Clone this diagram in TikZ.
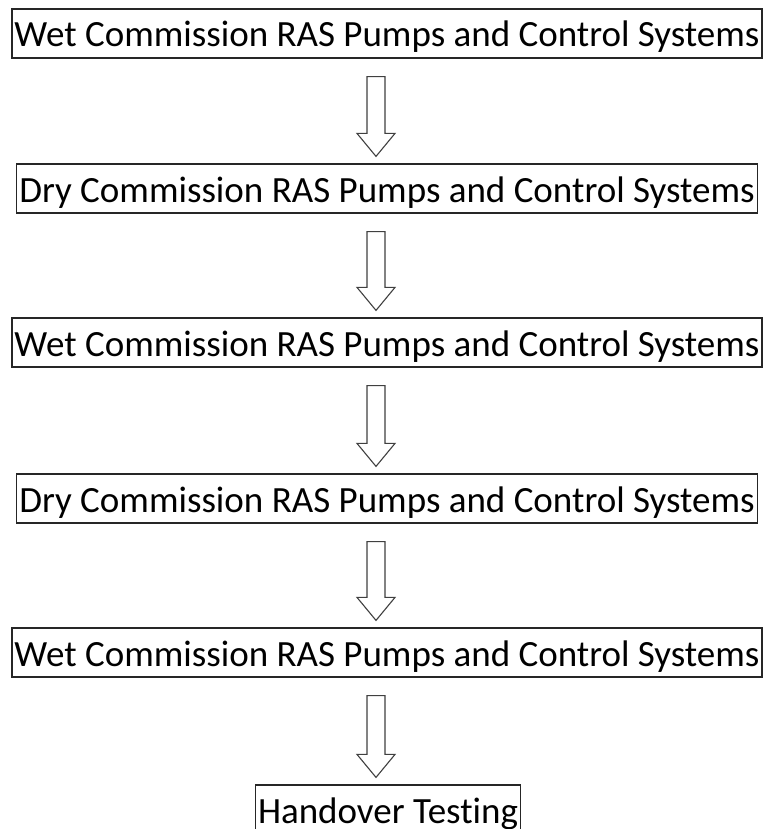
\documentclass[tikz,border=0pt]{standalone}
\usepackage{fontspec}
\setmainfont[Ligatures=NoCommon]{Carlito}
\usepackage{tikz}
\usetikzlibrary{calc}

\newcommand{\stagearrow}[2]{%
  \draw[arrowline] let \p1=(#1.south), \p2=(#2.north) in
    (367pt,\y1-18pt) -- (385pt,\y1-18pt) -- (385pt,\y2+30pt) -- (395pt,\y2+30pt)
    -- (376pt,\y2+7pt) -- (357pt,\y2+30pt) -- (367pt,\y2+30pt) -- cycle;}

\begin{document}
\begin{tikzpicture}[
  x=1pt, y=-1pt,
  stage/.style={draw=black!85, line width=1.2pt, inner xsep=2.5pt, inner ysep=0pt,
    text height=38pt, text depth=11pt, font=\fontsize{37}{40}\selectfont},
  arrowline/.style={draw=black!75, line width=1.1pt, fill=white, line join=miter},
]
\useasboundingbox (0,0) rectangle (764,829);

% Nodes
\node[stage] (wet1) at (387,33.5) {Wet Commission RAS Pumps and Control Systems};
\node[stage] (dry1) at (387,188.5) {Dry Commission RAS Pumps and Control Systems};
\node[stage] (wet2) at (387,342.5) {Wet Commission RAS Pumps and Control Systems};
\node[stage] (dry2) at (387,498.5) {Dry Commission RAS Pumps and Control Systems};
\node[stage] (wet3) at (387,652.5) {Wet Commission RAS Pumps and Control Systems};
\node[stage] (hand) at (388,809.5) {Handover Testing};

% Arrows
\stagearrow{wet1}{dry1}
\stagearrow{dry1}{wet2}
\stagearrow{wet2}{dry2}
\stagearrow{dry2}{wet3}
\stagearrow{wet3}{hand}

\end{tikzpicture}
\end{document}
